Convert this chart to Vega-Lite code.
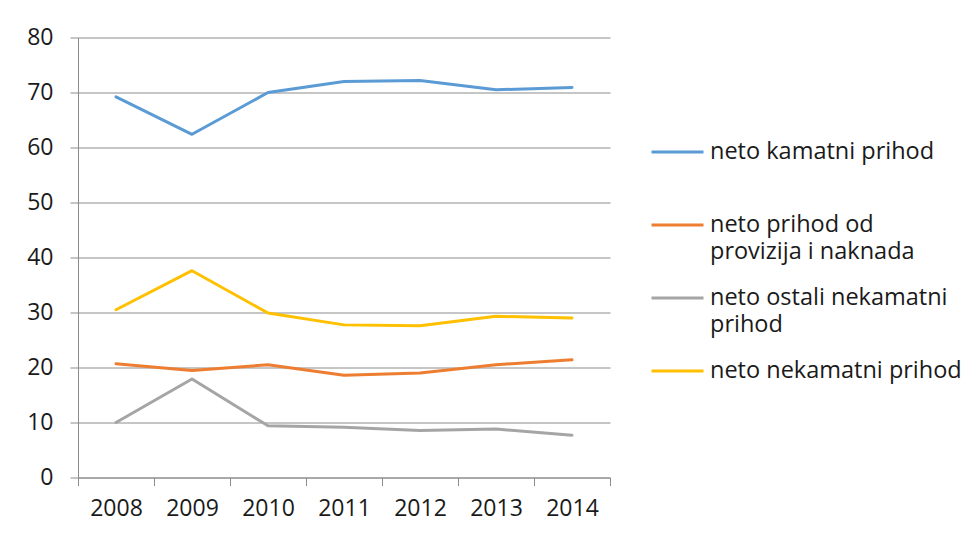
{
  "$schema": "https://vega.github.io/schema/vega-lite/v6.json",
  "width": 532,
  "height": 440,
  "autosize": {"type": "none"},
  "padding": {"left": 78, "top": 37.5, "right": 370, "bottom": 55.5},
  "background": "white",
  "data": {
    "values": [
      {"year": "2008", "series": "neto kamatni prihod", "value": 69.2},
      {"year": "2009", "series": "neto kamatni prihod", "value": 62.4},
      {"year": "2010", "series": "neto kamatni prihod", "value": 70.0},
      {"year": "2011", "series": "neto kamatni prihod", "value": 72.0},
      {"year": "2012", "series": "neto kamatni prihod", "value": 72.2},
      {"year": "2013", "series": "neto kamatni prihod", "value": 70.5},
      {"year": "2014", "series": "neto kamatni prihod", "value": 70.9},
      {"year": "2008", "series": "neto prihod od provizija i naknada", "value": 20.7},
      {"year": "2009", "series": "neto prihod od provizija i naknada", "value": 19.45},
      {"year": "2010", "series": "neto prihod od provizija i naknada", "value": 20.5},
      {"year": "2011", "series": "neto prihod od provizija i naknada", "value": 18.6},
      {"year": "2012", "series": "neto prihod od provizija i naknada", "value": 19.0},
      {"year": "2013", "series": "neto prihod od provizija i naknada", "value": 20.5},
      {"year": "2014", "series": "neto prihod od provizija i naknada", "value": 21.4},
      {"year": "2008", "series": "neto ostali nekamatni prihod", "value": 10.0},
      {"year": "2009", "series": "neto ostali nekamatni prihod", "value": 17.9},
      {"year": "2010", "series": "neto ostali nekamatni prihod", "value": 9.4},
      {"year": "2011", "series": "neto ostali nekamatni prihod", "value": 9.15},
      {"year": "2012", "series": "neto ostali nekamatni prihod", "value": 8.55},
      {"year": "2013", "series": "neto ostali nekamatni prihod", "value": 8.8},
      {"year": "2014", "series": "neto ostali nekamatni prihod", "value": 7.7},
      {"year": "2008", "series": "neto nekamatni prihod", "value": 30.5},
      {"year": "2009", "series": "neto nekamatni prihod", "value": 37.6},
      {"year": "2010", "series": "neto nekamatni prihod", "value": 29.9},
      {"year": "2011", "series": "neto nekamatni prihod", "value": 27.75},
      {"year": "2012", "series": "neto nekamatni prihod", "value": 27.6},
      {"year": "2013", "series": "neto nekamatni prihod", "value": 29.3},
      {"year": "2014", "series": "neto nekamatni prihod", "value": 29.0}
    ]
  },
  "mark": {"type": "line", "strokeWidth": 3, "strokeCap": "round", "strokeJoin": "round"},
  "encoding": {
    "x": {
      "field": "year",
      "type": "ordinal",
      "bandPosition": 0.5,
      "scale": {"type": "band", "paddingInner": 0, "paddingOuter": 0},
      "axis": {
        "title": null,
        "labelAngle": 0,
        "tickBand": "extent",
        "tickSize": 8,
        "tickColor": "#8c8c8c",
        "domainColor": "#8c8c8c",
        "labelPadding": 12,
        "grid": false
      }
    },
    "y": {
      "field": "value",
      "type": "quantitative",
      "scale": {"domain": [0, 80], "nice": false},
      "axis": {
        "title": null,
        "values": [0, 10, 20, 30, 40, 50, 60, 70, 80],
        "tickSize": 8,
        "tickColor": "#8c8c8c",
        "domainColor": "#8c8c8c",
        "gridColor": "#8c8c8c",
        "gridOpacity": 1,
        "labelPadding": 17
      }
    },
    "color": {
      "field": "series",
      "type": "nominal",
      "sort": ["neto kamatni prihod", "neto prihod od provizija i naknada", "neto ostali nekamatni prihod", "neto nekamatni prihod"],
      "scale": {
        "domain": ["neto kamatni prihod", "neto prihod od provizija i naknada", "neto ostali nekamatni prihod", "neto nekamatni prihod"],
        "range": ["#5B9BD5", "#ED7D31", "#A5A5A5", "#FFC000"]
      },
      "legend": {
        "title": null,
        "orient": "none",
        "legendX": 572,
        "legendY": 87,
        "symbolType": "stroke",
        "symbolSize": 2704,
        "symbolStrokeWidth": 3,
        "labelOffset": 5,
        "labelFont": "Open Sans",
        "labelFontSize": 23.5,
        "labelColor": "#1a1a1a",
        "labelLimit": 400,
        "gridAlign": "all",
        "rowPadding": 7,
        "labelExpr": "datum.label == 'neto prihod od provizija i naknada' ? ['neto prihod od', 'provizija i naknada'] : datum.label == 'neto ostali nekamatni prihod' ? ['neto ostali nekamatni', 'prihod'] : datum.label"
      }
    }
  },
  "config": {
    "view": {"stroke": null},
    "axis": {
      "labelFont": "Open Sans",
      "labelFontSize": 23,
      "labelColor": "#1a1a1a",
      "domainWidth": 1,
      "gridWidth": 1
    },
    "style": {"guide-label": {"lineHeight": 27}}
  }
}
